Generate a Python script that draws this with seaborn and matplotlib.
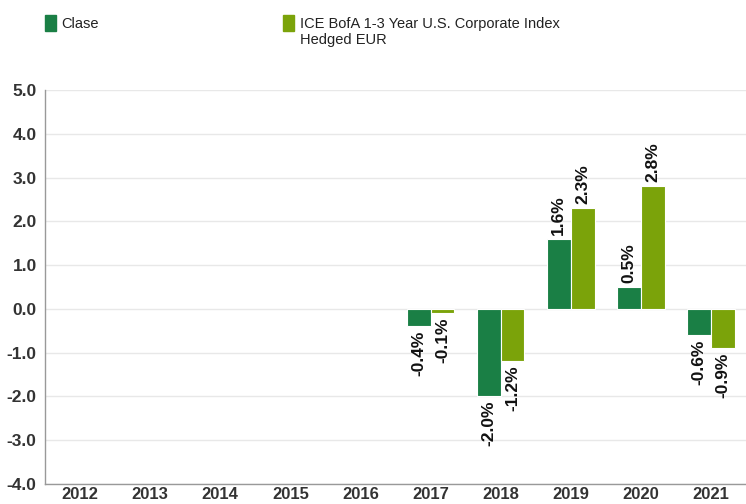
import numpy as np
import pandas as pd
import matplotlib
matplotlib.use("Agg")
import matplotlib.pyplot as plt
import seaborn as sns
from matplotlib.patches import Rectangle

years = ['2012', '2013', '2014', '2015', '2016', '2017', '2018', '2019', '2020', '2021']
clase = [np.nan, np.nan, np.nan, np.nan, np.nan, -0.4, -2.0, 1.6, 0.5, -0.6]
indice = [np.nan, np.nan, np.nan, np.nan, np.nan, -0.1, -1.2, 2.3, 2.8, -0.9]
series_names = ['Clase', 'ICE BofA 1-3 Year U.S. Corporate Index\nHedged EUR']
colors = ['#1a7f45', '#7ba30a']

dp = pd.DataFrame({
    'Year': years * 2,
    'Value': clase + indice,
    'Serie': [series_names[0]] * len(years) + [series_names[1]] * len(years),
})

sns.set_style("white")
plt.rcParams['font.family'] = ['Liberation Sans', 'DejaVu Sans']

fig = plt.figure(figsize=(7.46, 5.04), dpi=100)
ax = fig.add_axes([0.0603, 0.0397, 0.9397, 0.7813])

sns.barplot(data=dp, x='Year', y='Value', hue='Serie', order=years,
            hue_order=series_names, palette=colors, width=0.68,
            edgecolor='white', linewidth=0.8, saturation=1, ax=ax, legend=False)

for cont in ax.containers:
    ax.bar_label(cont, fmt=lambda v: f"{v:.1f}%", rotation=90, padding=3,
                 fontsize=12.5, fontweight='bold', color='#111111')

ax.set_ylim(-4, 5)
ax.set_yticks(np.arange(-4, 6, 1))
ax.set_yticklabels([f"{v:.1f}" for v in np.arange(-4, 6, 1)])
ax.set_xlim(-0.5, 9.5)
ax.yaxis.grid(True, color='#e8e8e8', linewidth=1)
ax.set_axisbelow(True)
ax.set_xlabel('')
ax.set_ylabel('')
ax.tick_params(axis='both', length=0, labelsize=12.5, labelcolor='#333333')
ax.tick_params(axis='y', pad=6)
ax.tick_params(axis='x', pad=2, labelsize=12)
for lab in ax.get_xticklabels() + ax.get_yticklabels():
    lab.set_fontweight('bold')
for s in ['top', 'right']:
    ax.spines[s].set_visible(False)
for s in ['left', 'bottom']:
    ax.spines[s].set_color('#999999')
    ax.spines[s].set_linewidth(1)

# legend drawn by hand
fig.patches.append(Rectangle((45 / 746, 1 - 31 / 504), 11 / 746, 16 / 504,
                             transform=fig.transFigure, color=colors[0]))
fig.text(61 / 746, 1 - 24 / 504, series_names[0], fontsize=10.5, va='center',
         color='#222222')
fig.patches.append(Rectangle((283 / 746, 1 - 31 / 504), 11 / 746, 16 / 504,
                             transform=fig.transFigure, color=colors[1]))
fig.text(300 / 746, 1 - 17 / 504, series_names[1], fontsize=10.5, va='top',
         color='#222222', linespacing=1.15)

fig.savefig('out.png', dpi=100)
